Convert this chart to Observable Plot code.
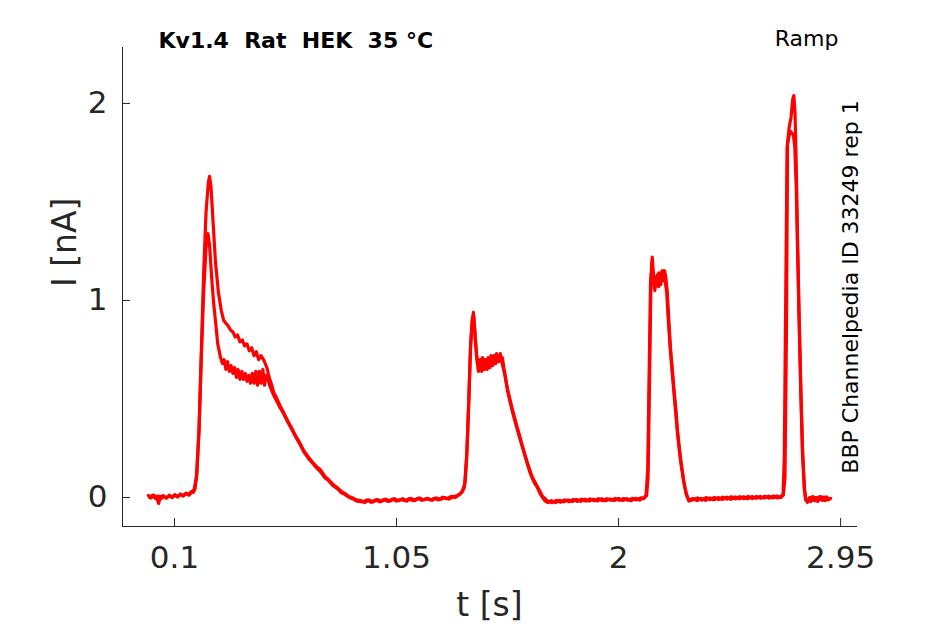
<!DOCTYPE html>
<html>
<head>
<meta charset="utf-8">
<script src="https://cdn.jsdelivr.net/npm/d3@7"></script>
<script src="https://cdn.jsdelivr.net/npm/@observablehq/plot@0.6"></script>
<style>
  html, body { margin: 0; padding: 0; background: #fff; }
</style>
</head>
<body>
<div id="chart"></div>
<script>
// ---- data ----
const titleText = "Kv1.4  Rat  HEK  35 °C";
const protocolText = "Ramp";
const sideText = "BBP Channelpedia ID 33249 rep 1";
const xLabel = "t [s]";
const yLabel = "I [nA]";
const xTicks = [0.1, 1.05, 2, 2.95];
const xTickLabels = ["0.1", "1.05", "2", "2.95"];
const yTicks = [0, 1, 2];
const yTickLabels = ["0", "1", "2"];

// sweep 1: [t (s), I (nA)] — higher first peak
const sweep1 = [
  [-0.012,0.010],[0.000,-0.002],[0.012,0.012],[0.024,0.000],[0.032,-0.030],[0.040,0.004],[0.052,0.010],[0.064,-0.003],[0.076,0.008],[0.088,0.002],[0.100,0.012],[0.112,0.004],[0.124,0.016],[0.136,0.008],[0.148,0.020],[0.160,0.014],[0.172,0.030],[0.180,0.026],[0.188,0.045],
  [0.195,0.12],[0.205,0.35],[0.215,0.75],[0.225,1.15],[0.235,1.45],[0.245,1.60],[0.250,1.63],[0.256,1.58],[0.265,1.40],[0.275,1.20],[0.288,1.04],[0.300,0.95],[0.310,0.90],[0.320,0.885],[0.330,0.87],[0.340,0.85],[0.350,0.84],[0.360,0.815],[0.370,0.825],[0.380,0.79],[0.390,0.80],[0.400,0.77],[0.410,0.78],[0.420,0.745],[0.430,0.76],[0.440,0.72],[0.450,0.74],[0.460,0.70],[0.470,0.72],[0.481,0.70],[0.495,0.66],[0.505,0.61],[0.515,0.575],[0.524,0.535],[0.535,0.51],[0.550,0.47],[0.565,0.435],[0.584,0.39],[0.600,0.355],[0.620,0.31],[0.635,0.28],[0.652,0.24],[0.670,0.21],[0.690,0.18],[0.710,0.155],[0.725,0.14],[0.745,0.105],[0.760,0.09],[0.780,0.065],[0.797,0.05],[0.815,0.03],[0.830,0.02],[0.845,0.005],[0.860,0.0],[0.878,-0.012],
  [0.896,-0.015],[0.915,-0.025],[0.932,-0.012],[0.950,-0.022],[0.968,-0.010],[0.986,-0.020],[1.004,-0.008],[1.022,-0.018],[1.040,-0.006],[1.058,-0.016],[1.076,-0.006],[1.094,-0.018],[1.112,-0.004],[1.130,-0.014],[1.148,-0.002],[1.166,-0.012],[1.184,-0.004],[1.202,-0.014],[1.220,-0.002],[1.238,-0.010],[1.256,0.000],[1.274,-0.008],[1.292,0.004],[1.310,0.010],[1.325,0.022],[1.340,0.05],
  [1.350,0.20],[1.358,0.45],[1.366,0.75],[1.374,0.90],[1.379,0.94],[1.385,0.85],[1.392,0.72],[1.400,0.64],[1.406,0.69],[1.412,0.65],[1.418,0.71],[1.424,0.66],[1.430,0.70],[1.436,0.66],[1.442,0.71],[1.448,0.67],[1.454,0.72],[1.460,0.68],[1.466,0.72],[1.472,0.69],[1.478,0.73],[1.484,0.69],[1.490,0.72],[1.496,0.70],[1.503,0.71],[1.509,0.66],[1.515,0.62],[1.525,0.54],[1.535,0.49],[1.545,0.44],[1.556,0.39],[1.568,0.34],[1.580,0.29],[1.590,0.25],[1.600,0.21],[1.610,0.17],[1.620,0.13],[1.630,0.10],[1.642,0.07],[1.653,0.05],[1.664,0.02],[1.675,0.0],[1.686,-0.018],[1.696,-0.025],
  [1.712,-0.016],[1.730,-0.026],[1.748,-0.014],[1.766,-0.022],[1.784,-0.012],[1.802,-0.020],[1.820,-0.010],[1.838,-0.019],[1.856,-0.008],[1.874,-0.018],[1.892,-0.009],[1.910,-0.017],[1.928,-0.006],[1.946,-0.016],[1.964,-0.007],[1.982,-0.015],[2.000,-0.005],[2.018,-0.015],[2.036,-0.006],[2.054,-0.016],[2.072,-0.004],[2.090,-0.013],[2.105,-0.002],[2.115,0.004],[2.120,0.01],
  [2.126,0.10],[2.132,0.55],[2.138,1.05],[2.144,1.22],[2.150,1.12],[2.155,1.05],[2.160,1.10],[2.166,1.13],[2.171,1.07],[2.176,1.12],[2.181,1.08],[2.186,1.15],[2.192,1.11],[2.197,1.15],[2.202,1.12],[2.208,1.05],[2.215,0.90],[2.222,0.76],[2.230,0.65],[2.237,0.55],[2.245,0.45],[2.252,0.34],[2.258,0.27],[2.265,0.20],[2.272,0.14],[2.278,0.09],[2.284,0.05],[2.290,0.02],[2.300,-0.015],
  [2.318,-0.005],[2.336,-0.016],[2.354,-0.004],[2.372,-0.014],[2.390,-0.002],[2.408,-0.012],[2.426,0.000],[2.444,-0.010],[2.462,0.002],[2.480,-0.009],[2.498,0.003],[2.516,-0.007],[2.534,0.004],[2.552,-0.006],[2.570,0.005],[2.588,-0.004],[2.606,0.006],[2.624,-0.003],[2.642,0.007],[2.660,-0.002],[2.678,0.008],[2.694,0.000],[2.705,0.012],
  [2.712,0.10],[2.718,0.80],[2.723,1.80],[2.730,1.88],[2.738,1.93],[2.745,2.02],[2.750,2.04],[2.755,1.95],[2.760,1.70],[2.766,1.30],[2.772,0.95],[2.780,0.55],[2.787,0.25],[2.795,0.05],[2.800,-0.01],[2.808,-0.025],[2.815,-0.005],[2.822,-0.02],[2.830,0.005],[2.838,-0.015],[2.845,0.0],[2.852,-0.02],[2.860,0.004],[2.868,-0.012],[2.875,0.002],[2.883,-0.015],[2.890,0.003],[2.898,-0.012],[2.907,-0.004]
];

// sweep 2: [t (s), I (nA)] — lower first peak
const sweep2 = [
  [-0.006,0.000],[0.006,0.012],[0.018,-0.004],[0.030,0.008],[0.042,-0.006],[0.054,0.006],[0.066,-0.002],[0.078,0.012],[0.090,0.000],[0.102,0.014],[0.114,0.004],[0.126,0.018],[0.138,0.008],[0.150,0.022],[0.162,0.012],[0.174,0.028],[0.184,0.04],
  [0.195,0.11],[0.205,0.34],[0.215,0.72],[0.225,1.05],[0.235,1.27],[0.243,1.34],[0.250,1.28],[0.260,1.10],[0.268,0.98],[0.275,0.90],[0.285,0.78],[0.297,0.71],[0.305,0.68],[0.312,0.70],[0.320,0.65],[0.327,0.69],[0.335,0.64],[0.342,0.67],[0.350,0.63],[0.357,0.66],[0.365,0.61],[0.372,0.65],[0.380,0.60],[0.388,0.64],[0.395,0.60],[0.403,0.63],[0.410,0.59],[0.418,0.62],[0.425,0.58],[0.433,0.63],[0.440,0.58],[0.448,0.64],[0.455,0.57],[0.463,0.64],[0.470,0.58],[0.478,0.65],[0.485,0.57],[0.492,0.62],[0.502,0.59],[0.510,0.56],[0.524,0.52],[0.537,0.49],[0.550,0.46],[0.567,0.425],[0.584,0.385],[0.602,0.345],[0.620,0.305],[0.637,0.27],[0.652,0.235],[0.672,0.20],[0.690,0.175],[0.708,0.15],[0.725,0.13],[0.743,0.10],[0.760,0.085],[0.778,0.06],[0.797,0.045],[0.813,0.025],[0.830,0.015],[0.848,0.0],[0.865,-0.008],[0.880,-0.018],
  [0.906,-0.022],[0.924,-0.012],[0.942,-0.024],[0.960,-0.012],[0.978,-0.022],[0.996,-0.010],[1.014,-0.020],[1.032,-0.008],[1.050,-0.018],[1.068,-0.010],[1.086,-0.016],[1.104,-0.006],[1.122,-0.016],[1.140,-0.004],[1.158,-0.014],[1.176,-0.006],[1.194,-0.012],[1.212,-0.004],[1.230,-0.012],[1.248,0.002],[1.266,-0.006],[1.284,0.006],[1.302,0.000],[1.318,0.014],[1.332,0.03],[1.344,0.08],
  [1.352,0.26],[1.360,0.52],[1.368,0.80],[1.375,0.91],[1.380,0.92],[1.387,0.80],[1.395,0.70],[1.402,0.66],[1.408,0.70],[1.414,0.64],[1.420,0.69],[1.426,0.65],[1.432,0.70],[1.438,0.65],[1.444,0.70],[1.450,0.66],[1.456,0.71],[1.462,0.67],[1.468,0.71],[1.475,0.68],[1.481,0.72],[1.488,0.69],[1.494,0.73],[1.500,0.69],[1.512,0.63],[1.525,0.55],[1.545,0.45],[1.568,0.35],[1.590,0.255],[1.610,0.175],[1.630,0.105],[1.653,0.055],[1.675,0.005],[1.698,-0.02],
  [1.716,-0.026],[1.734,-0.014],[1.752,-0.024],[1.770,-0.012],[1.788,-0.021],[1.806,-0.010],[1.824,-0.020],[1.842,-0.008],[1.860,-0.018],[1.878,-0.007],[1.896,-0.016],[1.914,-0.006],[1.932,-0.016],[1.950,-0.006],[1.968,-0.014],[1.986,-0.004],[2.004,-0.014],[2.022,-0.005],[2.040,-0.014],[2.058,-0.004],[2.076,-0.012],[2.094,-0.002],[2.108,-0.006],[2.118,0.015],
  [2.125,0.15],[2.131,0.65],[2.137,1.10],[2.143,1.20],[2.149,1.10],[2.156,1.07],[2.161,1.12],[2.166,1.08],[2.172,1.14],[2.177,1.09],[2.182,1.14],[2.188,1.10],[2.193,1.15],[2.198,1.11],[2.206,1.04],[2.214,0.88],[2.222,0.74],[2.237,0.53],[2.252,0.33],[2.265,0.19],[2.278,0.085],[2.290,0.015],[2.302,-0.018],
  [2.320,-0.010],[2.338,-0.002],[2.356,-0.013],[2.374,0.000],[2.392,-0.011],[2.410,0.001],[2.428,-0.010],[2.446,0.002],[2.464,-0.008],[2.482,0.004],[2.500,-0.007],[2.518,0.005],[2.536,-0.006],[2.554,0.006],[2.572,-0.005],[2.590,0.006],[2.608,-0.004],[2.626,0.007],[2.644,-0.003],[2.662,0.008],[2.680,-0.002],[2.696,0.006],[2.704,0.02],
  [2.709,0.20],[2.715,1.00],[2.721,1.78],[2.727,1.82],[2.734,1.86],[2.741,1.85],[2.748,1.84],[2.754,1.78],[2.760,1.58],[2.766,1.25],[2.772,0.92],[2.780,0.52],[2.787,0.22],[2.795,0.04],[2.802,-0.012],[2.810,-0.018],[2.818,0.000],[2.826,-0.015],[2.834,0.002],[2.842,-0.016],[2.850,0.000],[2.858,-0.012],[2.866,0.004],[2.874,-0.014],[2.882,0.002],[2.892,-0.012],[2.900,-0.004]
];

const rows = [
  ...sweep1.map(([t, I]) => ({sweep: "1", t, I})),
  ...sweep2.map(([t, I]) => ({sweep: "2", t, I}))
];

const axisColor = "#262626";
const font = "DejaVu Sans, sans-serif";
const W = 945, H = 624, mL = 122, mR = 89, mT = 47, mB = 98;
const tickLen = 8;

const chart = Plot.plot({
  width: W,
  height: H,
  marginLeft: mL,
  marginRight: mR,
  marginTop: mT,
  marginBottom: mB,
  style: {fontFamily: font, background: "#fff", color: axisColor},
  x: {domain: [-0.1225, 3.018]},
  y: {domain: [-0.147, 2.284]},
  marks: [
    Plot.frame({anchor: "left", stroke: axisColor, strokeWidth: 1}),
    Plot.frame({anchor: "bottom", stroke: axisColor, strokeWidth: 1}),
    // inward tick marks
    Plot.tickX(xTicks, {x: d => d, stroke: axisColor, insetTop: (H - mT - mB) - tickLen}),
    Plot.tickY(yTicks, {y: d => d, stroke: axisColor, insetRight: (W - mL - mR) - tickLen}),
    Plot.axisX({
      ticks: xTicks,
      tickFormat: d => xTickLabels[xTicks.indexOf(d)],
      tickSize: 0,
      tickPadding: 19,
      fontSize: 31,
      fill: axisColor,
      label: null
    }),
    Plot.axisY({
      ticks: yTicks,
      tickFormat: d => yTickLabels[yTicks.indexOf(d)],
      tickSize: 0,
      tickPadding: 15,
      fontSize: 31,
      fill: axisColor,
      label: null
    }),
    Plot.line(rows, {
      x: "t", y: "I", z: "sweep",
      stroke: "#ff0000", strokeWidth: 3.2, strokeLinejoin: "round", curve: "linear"
    }),
    Plot.text([xLabel], {
      text: d => d, frameAnchor: "bottom", dy: 79,
      fontSize: 33, fill: axisColor, lineAnchor: "middle"
    }),
    Plot.text([yLabel], {
      text: d => d, frameAnchor: "left", dx: -57, rotate: -90,
      fontSize: 33, fill: axisColor, lineAnchor: "middle"
    }),
    Plot.text([titleText], {
      text: d => d, frameAnchor: "top-left", dx: 36, dy: -7,
      textAnchor: "start", lineAnchor: "middle",
      fontSize: 22, fontWeight: "bold", fill: "#000"
    }),
    Plot.text([protocolText], {
      text: d => d, frameAnchor: "top-right", dx: -18, dy: -9,
      textAnchor: "end", lineAnchor: "middle",
      fontSize: 22, fill: "#000"
    }),
    Plot.text([sideText], {
      text: d => d, frameAnchor: "right", dx: -6, rotate: -90,
      textAnchor: "middle", lineAnchor: "middle", fontSize: 22, fill: "#000"
    })
  ]
});

document.getElementById("chart").appendChild(chart);
</script>
</body>
</html>
